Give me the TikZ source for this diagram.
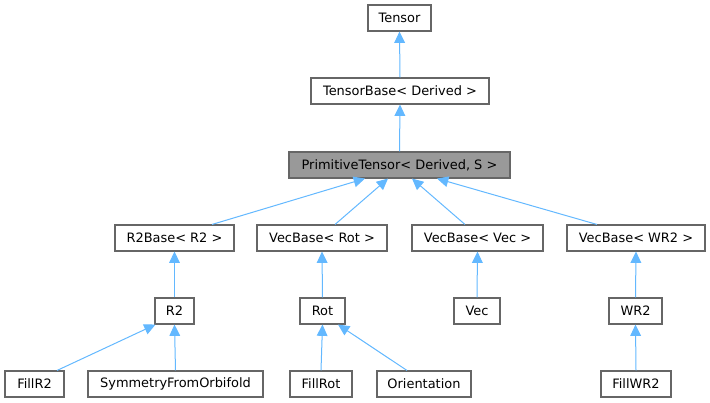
\documentclass[tikz,border=0pt]{standalone}
\usepackage{fontspec}
\setmainfont{DejaVu Sans}
\usetikzlibrary{arrows.meta,calc}
\definecolor{edgeblue}{HTML}{63B8FF}
\definecolor{boxborder}{HTML}{666666}
\definecolor{boxfill}{HTML}{999999}
\tikzset{
  cls/.style={draw=boxborder, line width=0.8pt, fill=white, rectangle, inner sep=0pt,
    minimum height=19.5pt, font=\fontsize{9.7}{11}\selectfont, text=black},
  clsmain/.style={cls, fill=boxfill},
  inh/.style={draw=edgeblue, line width=0.75pt, -{Triangle[length=8.5pt,width=8pt]}},
}
\begin{document}
\begin{tikzpicture}[x=0.75pt,y=-0.75pt]
\useasboundingbox (0,0) rectangle (710,403);
% row 1-3
\node[cls, minimum width=47.25pt] (tensor) at (399.5,18) {Tensor};
\node[cls, minimum width=133.5pt] (tbase) at (400,91) {TensorBase< Derived >};
\node[clsmain, minimum width=165.75pt] (prim) at (399.5,165) {PrimitiveTensor< Derived, S >};
% row 4
\node[cls, minimum width=89.25pt] (r2base) at (174.5,238) {R2Base< R2 >};
\node[cls, minimum width=97.5pt] (vrot) at (322,238) {VecBase< Rot >};
\node[cls, minimum width=98.25pt] (vvec) at (477.5,238) {VecBase< Vec >};
\node[cls, minimum width=103.5pt] (vwr2) at (636,238) {VecBase< WR2 >};
% row 5
\node[cls, minimum width=29.25pt] (r2) at (174.5,311) {R2};
\node[cls, minimum width=33.75pt] (rot) at (322.5,311) {Rot};
\node[cls, minimum width=34.5pt] (vec) at (477,311) {Vec};
\node[cls, minimum width=39.75pt] (wr2) at (635.5,311) {WR2};
% row 6
\node[cls, minimum width=44.25pt] (fillr2) at (34.5,384) {FillR2};
\node[cls, minimum width=131.25pt] (sym) at (175.5,384) {SymmetryFromOrbifold};
\node[cls, minimum width=46.5pt] (fillrot) at (321,384) {FillRot};
\node[cls, minimum width=70.5pt] (orient) at (424,384) {Orientation};
\node[cls, minimum width=52.5pt] (fillwr2) at (636,384) {FillWR2};
% edges
\draw[inh] (tbase.north) -- (tensor.south);
\draw[inh] (prim.north) -- (tbase.south);
\draw[inh] ($(r2base.north)+(37.5,0)$) -- ($(prim.south)+(-34.5,0)$);
\draw[inh] ($(vrot.north)+(13,0)$) -- ($(prim.south)+(-11.5,0)$);
\draw[inh] ($(vvec.north)+(-12.5,0)$) -- ($(prim.south)+(12.5,0)$);
\draw[inh] ($(vwr2.north)+(-39,0)$) -- ($(prim.south)+(37.5,0)$);
\draw[inh] (r2.north) -- (r2base.south);
\draw[inh] (rot.north) -- (vrot.south);
\draw[inh] (vec.north) -- (vvec.south);
\draw[inh] (wr2.north) -- (vwr2.south);
\draw[inh] ($(fillr2.north)+(22.5,0)$) -- ($(r2.south)+(-19,0)$);
\draw[inh] (sym.north) -- (r2.south);
\draw[inh] (fillrot.north) -- (rot.south);
\draw[inh] ($(orient.north)+(-17,0)$) -- ($(rot.south)+(15.5,0)$);
\draw[inh] (fillwr2.north) -- (wr2.south);
\end{tikzpicture}
\end{document}
